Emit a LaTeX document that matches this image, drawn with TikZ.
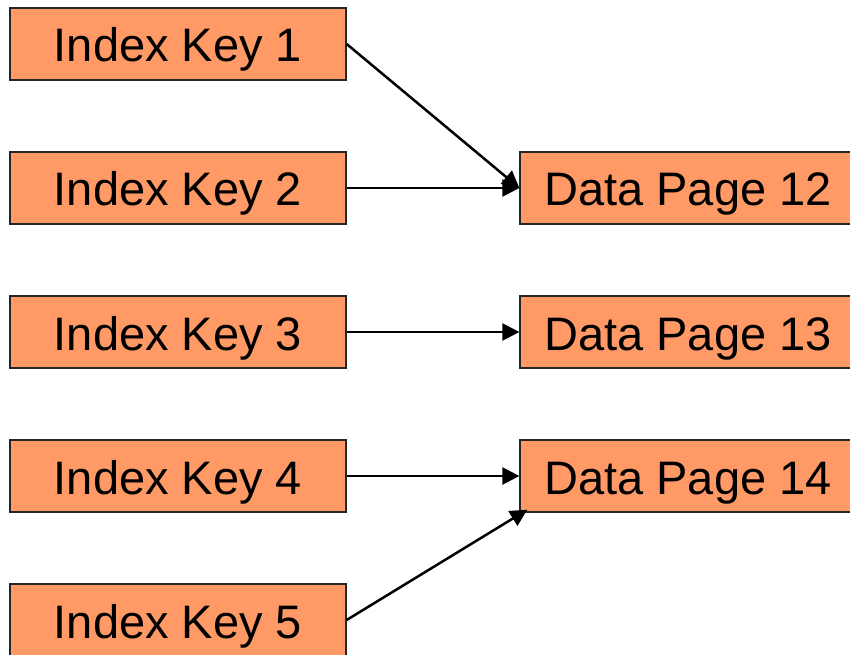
\documentclass[tikz,border=0pt]{standalone}
\usepackage{fontspec}
\setmainfont{Liberation Sans}
\usetikzlibrary{arrows.meta,calc}
\definecolor{boxfill}{HTML}{FF9966}

\begin{document}
\begin{tikzpicture}[x=1pt,y=1pt,
		keybox/.style={draw=black!85,line width=1.3pt,fill=boxfill,minimum width=336pt,minimum height=72pt,inner sep=0pt,text height=36pt,text depth=0pt,font=\fontsize{47}{50}\selectfont},
		link/.style={line width=2.5pt,-{Triangle[length=17pt,width=17pt]}}]
				\useasboundingbox (0,0) rectangle (850,654);
				%index keys on the left
				\node[keybox] (key1) at (178,610) {Index Key 1};
				\node[keybox] (key2) at (178,466) {Index Key 2};
				\node[keybox] (key3) at (178,322) {Index Key 3};
				\node[keybox] (key4) at (178,178) {Index Key 4};
				\node[keybox] (key5) at (178,34) {Index Key 5};
				%data pages on the right
				\node[keybox] (page12) at (688,466) {Data Page 12};
				\node[keybox] (page13) at (688,322) {Data Page 13};
				\node[keybox] (page14) at (688,178) {Data Page 14};
				\draw[link] (key1.east) -- (page12.west);
				\draw[link] (key2.east) -- (page12.west);
				\draw[link] (key3.east) -- (page13.west);
				\draw[link] (key4.east) -- (page14.west);
				\draw[link] (key5.east) -- ($(page14.south west)+(8,3)$);
\end{tikzpicture}
\end{document}
